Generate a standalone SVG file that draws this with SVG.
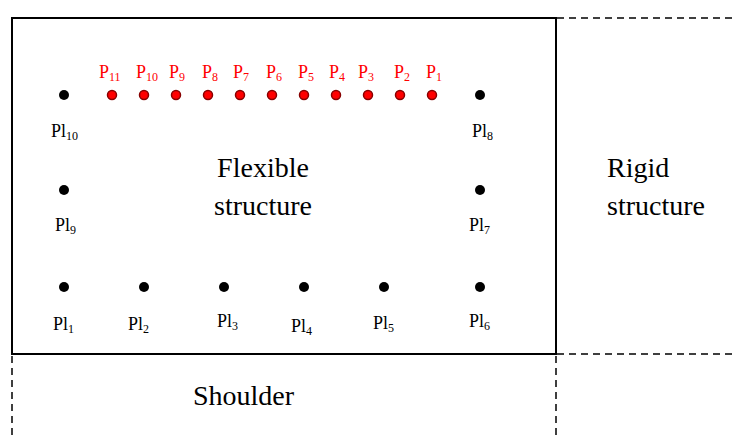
<svg xmlns="http://www.w3.org/2000/svg" width="734" height="439" viewBox="0 0 734 439">
<style>
.solid{stroke:#000;stroke-width:2;fill:none}
.dash{stroke:#000;stroke-width:1.5;fill:none;stroke-dasharray:7,5}
.bd{fill:#000}
.rd{fill:#f00;stroke:#800;stroke-width:1.5}
.lbl{font-size:18px;fill:#000}
.rl{font-size:18px;fill:#f00}
.sub{font-size:12px}
.big{font-size:28px;fill:#000}
</style>
<rect fill="#fff" width="734" height="439"/>
<g id="connectors">
<rect class="solid" x="12" y="18" width="544" height="336"/>
<line class="dash" x1="557" y1="18" x2="734" y2="18"/>
<line class="dash" x1="557" y1="354" x2="734" y2="354"/>
<line class="dash" x1="12" y1="356" x2="12" y2="439"/>
<line class="dash" x1="556" y1="356" x2="556" y2="439"/>
</g>
<g font-family="Liberation Serif, Times New Roman, DejaVu Serif, serif">
<g id="regions">
<text class="big" x="263" y="177" text-anchor="middle">Flexible</text>
<text class="big" x="263" y="215" text-anchor="middle">structure</text>
<text class="big" x="607" y="177">Rigid</text>
<text class="big" x="607" y="215">structure</text>
<text class="big" x="193" y="405">Shoulder</text>
</g>
<g id="Pl10"><circle class="bd" cx="64" cy="95" r="5"/><text class="lbl" x="51" y="137">Pl<tspan class="sub" dy="3">10</tspan></text></g>
<g id="Pl8"><circle class="bd" cx="480" cy="95" r="5"/><text class="lbl" x="472" y="137">Pl<tspan class="sub" dy="3">8</tspan></text></g>
<g id="Pl9"><circle class="bd" cx="64" cy="190" r="5"/><text class="lbl" x="55" y="231">Pl<tspan class="sub" dy="3">9</tspan></text></g>
<g id="Pl7"><circle class="bd" cx="480" cy="190" r="5"/><text class="lbl" x="469" y="231">Pl<tspan class="sub" dy="3">7</tspan></text></g>
<g id="Pl1"><circle class="bd" cx="64" cy="287" r="5"/><text class="lbl" x="53" y="330">Pl<tspan class="sub" dy="3">1</tspan></text></g>
<g id="Pl2"><circle class="bd" cx="144" cy="287" r="5"/><text class="lbl" x="128" y="330">Pl<tspan class="sub" dy="3">2</tspan></text></g>
<g id="Pl3"><circle class="bd" cx="224" cy="287" r="5"/><text class="lbl" x="217" y="327">Pl<tspan class="sub" dy="3">3</tspan></text></g>
<g id="Pl4"><circle class="bd" cx="304" cy="287" r="5"/><text class="lbl" x="291" y="332">Pl<tspan class="sub" dy="3">4</tspan></text></g>
<g id="Pl5"><circle class="bd" cx="384" cy="287" r="5"/><text class="lbl" x="373" y="329">Pl<tspan class="sub" dy="3">5</tspan></text></g>
<g id="Pl6"><circle class="bd" cx="480" cy="287" r="5"/><text class="lbl" x="469" y="327">Pl<tspan class="sub" dy="3">6</tspan></text></g>
<g id="P11"><circle class="rd" cx="112" cy="95" r="4.5"/><text class="rl" x="99" y="78">P<tspan class="sub" dy="3">11</tspan></text></g>
<g id="P10"><circle class="rd" cx="144" cy="95" r="4.5"/><text class="rl" x="136" y="78">P<tspan class="sub" dy="3">10</tspan></text></g>
<g id="P9"><circle class="rd" cx="176" cy="95" r="4.5"/><text class="rl" x="169" y="78">P<tspan class="sub" dy="3">9</tspan></text></g>
<g id="P8"><circle class="rd" cx="208" cy="95" r="4.5"/><text class="rl" x="202" y="78">P<tspan class="sub" dy="3">8</tspan></text></g>
<g id="P7"><circle class="rd" cx="240" cy="95" r="4.5"/><text class="rl" x="233" y="78">P<tspan class="sub" dy="3">7</tspan></text></g>
<g id="P6"><circle class="rd" cx="272" cy="95" r="4.5"/><text class="rl" x="266" y="78">P<tspan class="sub" dy="3">6</tspan></text></g>
<g id="P5"><circle class="rd" cx="304" cy="95" r="4.5"/><text class="rl" x="298" y="78">P<tspan class="sub" dy="3">5</tspan></text></g>
<g id="P4"><circle class="rd" cx="336" cy="95" r="4.5"/><text class="rl" x="329" y="78">P<tspan class="sub" dy="3">4</tspan></text></g>
<g id="P3"><circle class="rd" cx="368" cy="95" r="4.5"/><text class="rl" x="358" y="78">P<tspan class="sub" dy="3">3</tspan></text></g>
<g id="P2"><circle class="rd" cx="400" cy="95" r="4.5"/><text class="rl" x="394" y="78">P<tspan class="sub" dy="3">2</tspan></text></g>
<g id="P1"><circle class="rd" cx="432" cy="95" r="4.5"/><text class="rl" x="426" y="78">P<tspan class="sub" dy="3">1</tspan></text></g>
</g>
</svg>
